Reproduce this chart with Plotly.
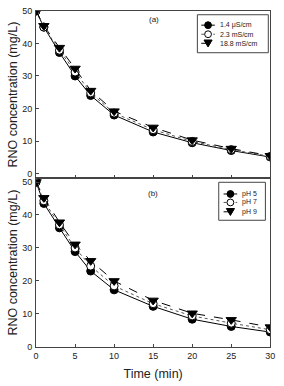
import plotly.graph_objects as go

time_min = [0, 1, 3, 5, 7, 10, 15, 20, 25, 30]

# Panel (a): conductivity
cond_labels = ["1.4 \u03bcS/cm", "2.3 mS/cm", "18.8 mS/cm"]
cond_1 = [50, 45.0, 37.2, 30.0, 24.0, 18.0, 12.8, 9.5, 7.1, 5.1]
cond_2 = [50, 45.0, 37.9, 31.2, 24.8, 18.6, 13.5, 9.9, 7.4, 5.3]
cond_3 = [50, 45.4, 38.7, 32.3, 25.5, 19.2, 14.2, 10.3, 7.7, 5.5]

# Panel (b): pH
ph_labels = ["pH 5", "pH 7", "pH 9"]
ph_5 = [50, 43.5, 36.1, 28.9, 23.0, 17.3, 12.3, 8.4, 6.2, 4.5]
ph_7 = [50, 44.3, 37.0, 30.0, 24.5, 18.5, 13.1, 9.4, 7.2, 5.2]
ph_9 = [50, 45.2, 37.8, 31.1, 26.1, 20.0, 14.1, 10.2, 8.2, 6.0]

x_ticks = [0, 5, 10, 15, 20, 25, 30]
y_ticks = [0, 10, 20, 30, 40, 50]

W, H = 284, 386
DASHES = ["solid", "dot", "dash"]
LINE_COLORS = ["black", "#555555", "black"]
SYMBOLS = ["circle", "circle", "triangle-down"]
FILLS = ["black", "white", "black"]

def style(i):
    return dict(line=dict(color=LINE_COLORS[i], width=1, dash=DASHES[i]),
                marker=dict(symbol=SYMBOLS[i], size=9 if i == 2 else 8, color=FILLS[i],
                            line=dict(color="black", width=1)))

fig = go.Figure()
for i, (lab, ys) in enumerate(zip(cond_labels, [cond_1, cond_2, cond_3])):
    fig.add_trace(go.Scatter(x=time_min, y=ys, name=lab, mode="lines+markers",
                             xaxis="x", yaxis="y", showlegend=False, **style(i)))
for i, (lab, ys) in enumerate(zip(ph_labels, [ph_5, ph_7, ph_9])):
    fig.add_trace(go.Scatter(x=time_min, y=ys, name=lab, mode="lines+markers",
                             xaxis="x2", yaxis="y2", showlegend=False, **style(i)))

def px(x):
    return x / W

def py(y):
    return 1 - y / H

shapes = []
annotations = []

def legend_box(labels, box, rows, line_x, mx, text_x, msize=3.5):
    bx0, by0, bx1, by1 = box
    shapes.append(dict(type="rect", xref="paper", yref="paper",
                       x0=px(bx0), x1=px(bx1), y0=py(by1), y1=py(by0),
                       line=dict(color="#444444", width=1), fillcolor="white", layer="above"))
    for i, (lab, ry) in enumerate(zip(labels, rows)):
        shapes.append(dict(type="line", xref="paper", yref="paper",
                           x0=px(line_x[0]), x1=px(line_x[1]), y0=py(ry), y1=py(ry),
                           line=dict(color=LINE_COLORS[i], width=1, dash=DASHES[i]), layer="above"))
        if SYMBOLS[i] == "circle":
            shapes.append(dict(type="circle", xref="paper", yref="paper",
                               x0=px(mx - msize), x1=px(mx + msize),
                               y0=py(ry + msize), y1=py(ry - msize),
                               fillcolor=FILLS[i], line=dict(color="black", width=1), layer="above"))
        else:
            s = msize + 0.7
            path = "M {} {} L {} {} L {} {} Z".format(
                px(mx - s), py(ry - s * 0.8), px(mx + s), py(ry - s * 0.8), px(mx), py(ry + s * 0.9))
            shapes.append(dict(type="path", xref="paper", yref="paper", path=path,
                               fillcolor="black", line=dict(color="black", width=1), layer="above"))
        annotations.append(dict(text=lab, x=px(text_x), y=py(ry), xref="paper", yref="paper",
                                xanchor="left", yanchor="middle", showarrow=False,
                                font=dict(size=7, color="#222222")))

legend_box(cond_labels, (200, 10, 273, 49), [20.7, 30.0, 39.3], (204, 218), 211, 221)
legend_box(ph_labels, (222, 182, 270, 221), [194.0, 202.7, 212.3], (227, 241), 234, 243.5)

annotations.append(dict(text="(a)", x=px(155), y=py(15), xref="paper", yref="paper",
                        xanchor="center", yanchor="middle", showarrow=False,
                        font=dict(size=8, color="#222222")))
annotations.append(dict(text="(b)", x=px(154), y=py(193), xref="paper", yref="paper",
                        xanchor="center", yanchor="middle", showarrow=False,
                        font=dict(size=8, color="#222222")))

ax_common = dict(showline=True, linecolor="#444444", linewidth=1, mirror=True,
                 ticks="inside", ticklen=3, tickcolor="#444444", showgrid=False,
                 zeroline=False, tickfont=dict(family="Liberation Sans, Arial", size=9, color="#222222"))

fig.update_layout(
    width=W, height=H,
    margin=dict(l=0, r=0, t=0, b=0),
    paper_bgcolor="white", plot_bgcolor="white",
    font=dict(family="Liberation Sans, Arial", color="#222222"),
    showlegend=False,
    xaxis=dict(domain=[px(34), px(275)], range=[0, 30], tickvals=x_ticks, showticklabels=False,
               anchor="y", **ax_common),
    yaxis=dict(domain=[py(178), py(6)], range=[-1.45, 50], tickvals=y_ticks,
               anchor="x", ticklabelstandoff=1,
               title=dict(text="RNO concentration (mg/L)", font=dict(size=12.5), standoff=1),
               **ax_common),
    xaxis2=dict(domain=[px(34), px(275)], range=[0, 30], tickvals=x_ticks, anchor="y2",
                title=dict(text="Time (min)", font=dict(size=12.5), standoff=9),
                **ax_common),
    yaxis2=dict(domain=[py(351), py(178)], range=[0, 51.1], tickvals=y_ticks,
                anchor="x2", ticklabelstandoff=1,
                title=dict(text="RNO concentration (mg/L)", font=dict(size=12.5), standoff=1),
                **ax_common),
    shapes=shapes,
    annotations=annotations,
)

fig.write_html("out.html")
